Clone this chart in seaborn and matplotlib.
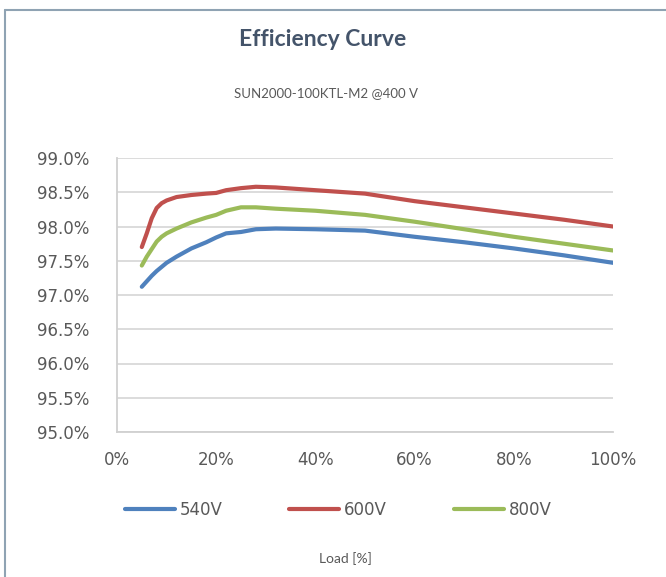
import matplotlib
matplotlib.use("Agg")
import matplotlib.pyplot as plt
from matplotlib.ticker import FuncFormatter, MultipleLocator
from matplotlib.lines import Line2D
import seaborn as sns
import pandas as pd

load = [5, 6, 7, 8, 9, 10, 12, 15, 18, 20, 22, 25, 28, 32, 40, 50, 60, 70, 80, 90, 100]
eff_540 = [97.12, 97.20, 97.28, 97.35, 97.41, 97.47, 97.56, 97.68, 97.77, 97.84, 97.90,
           97.92, 97.96, 97.97, 97.96, 97.94, 97.85, 97.77, 97.68, 97.58, 97.47]
eff_600 = [97.70, 97.90, 98.12, 98.27, 98.34, 98.38, 98.43, 98.46, 98.48, 98.49, 98.53,
           98.56, 98.58, 98.57, 98.53, 98.48, 98.37, 98.28, 98.19, 98.10, 98.00]
eff_800 = [97.43, 97.56, 97.67, 97.78, 97.85, 97.90, 97.97, 98.06, 98.13, 98.17, 98.23,
           98.28, 98.28, 98.26, 98.23, 98.17, 98.07, 97.96, 97.85, 97.75, 97.65]
series = ["540V", "600V", "800V"]
colors = ["#4f81bd", "#c0504d", "#9bbb59"]
x_ticks = [0, 20, 40, 60, 80, 100]

df = pd.concat([
    pd.DataFrame({"Load": load, "Eff": vals, "Series": name})
    for name, vals in zip(series, [eff_540, eff_600, eff_800])
])

sns.set_theme(style="white")
plt.rcParams["font.family"] = ["DejaVu Sans"]

fig = plt.figure(figsize=(6.66, 5.77), dpi=100)
ax = fig.add_axes([117/666, 1-432/577, (613-117)/666, (432-158)/577])

sns.lineplot(data=df, x="Load", y="Eff", hue="Series", palette=colors,
             linewidth=3.0, ax=ax, legend=False)
for ln in ax.get_lines():
    ln.set_solid_joinstyle("round")
    ln.set_solid_capstyle("round")

ax.set_xlim(0, 100)
ax.set_ylim(95.0, 99.0)
ax.yaxis.set_major_locator(MultipleLocator(0.5))
ax.set_xticks(x_ticks)
ax.yaxis.set_major_formatter(FuncFormatter(lambda v, p: f"{v:.1f}%"))
ax.xaxis.set_major_formatter(FuncFormatter(lambda v, p: f"{v:.0f}%"))
ax.grid(axis="y", color="#d9d9d9", linewidth=1.3)
ax.set_axisbelow(True)
for s in ["top", "right"]:
    ax.spines[s].set_visible(False)
for s in ["left", "bottom"]:
    ax.spines[s].set_color("#d0d0d0")
    ax.spines[s].set_linewidth(1.3)
ax.tick_params(axis="both", colors="#595959", labelsize=12, length=0)
ax.tick_params(axis="y", pad=20)
ax.tick_params(axis="x", pad=14)
ax.set_xlabel("")
ax.set_ylabel("")

fig.text(323/666, 1-40/577, "Efficiency Curve", ha="center", va="center",
         fontsize=16.5, fontweight="bold", color="#44546a", family=["Lato", "DejaVu Sans"])
fig.text(326/666, 1-93/577, "SUN2000-100KTL-M2 @400 V", ha="center", va="center",
         fontsize=9.5, color="#595959", family=["Lato", "DejaVu Sans"])
fig.text(345/666, 1-559/577, "Load [%]", ha="center", va="center",
         fontsize=10, color="#595959", family=["Lato", "DejaVu Sans"])

handles = [Line2D([0], [0], color=c, lw=3.0, solid_capstyle="round") for c in colors]
leg = fig.legend(handles, series, loc="center", bbox_to_anchor=(338/666, 1-510/577),
                 ncol=3, frameon=False, fontsize=12, handlelength=3.0,
                 columnspacing=4.0, handletextpad=0.3)
for t in leg.get_texts():
    t.set_color("#595959")

# outer frame
fig.add_artist(Line2D([5/666, 1], [1-10/577, 1-10/577], transform=fig.transFigure,
                      color="#8fa3b3", lw=1.5))
fig.add_artist(Line2D([5/666, 5/666], [0, 1-10/577], transform=fig.transFigure,
                      color="#8fa3b3", lw=1.5))

fig.savefig("out.png", dpi=100)
